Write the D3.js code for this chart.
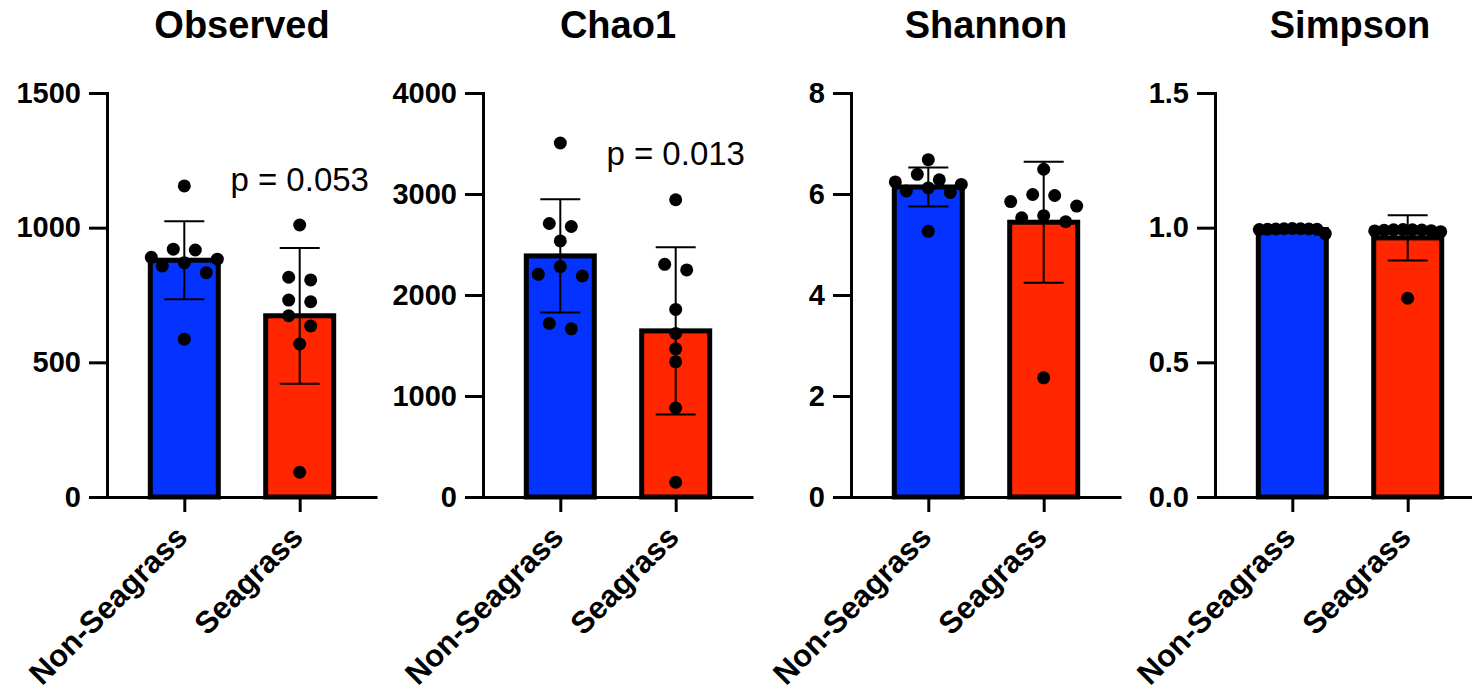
<!DOCTYPE html>
<html>
<head>
<meta charset="utf-8">
<script src="https://cdn.jsdelivr.net/npm/d3@7"></script>
<style>
  body { margin: 0; background: #fff; }
  text { font-family: "Liberation Sans", Arial, sans-serif; }
</style>
</head>
<body>
<svg id="chart" width="1472" height="690"></svg>
<script>
// --- data ---
var groups = ["Non-Seagrass", "Seagrass"];
var metrics = ["Observed", "Chao1", "Shannon", "Simpson"];

var observedNon = [1155, 917, 920, 890, 883, 858, 870, 833, 586];
var observedSea = [1010, 806, 816, 725, 731, 673, 635, 568, 92];
var chao1Non = [3505, 2678, 2708, 2535, 2281, 2205, 2188, 1665, 1718];
var chao1Sea = [2943, 2248, 2304, 1857, 1619, 1467, 1338, 881, 146];
var shannonNon = [6.68, 6.39, 6.28, 6.24, 6.19, 6.12, 6.06, 6.03, 5.26];
var shannonSea = [6.49, 5.76, 5.85, 5.97, 5.99, 5.53, 5.45, 5.57, 2.36];
var simpsonNon = [0.995, 0.996, 0.994, 0.997, 0.993, 0.995, 0.996, 0.978, 0.994];
var simpsonSea = [0.993, 0.990, 0.992, 0.988, 0.991, 0.985, 0.992, 0.989, 0.738];

var yMax = [1500, 4000, 8, 1.5];
var yTicks = [[0, 500, 1000, 1500], [0, 1000, 2000, 3000, 4000], [0, 2, 4, 6, 8], [0, 0.5, 1.0, 1.5]];
var tickFormats = ["d", "d", "d", ".1f"];
var pLabels = ["p = 0.053", "p = 0.013", null, null];
var groupColors = ["#0433FF", "#FF2600"];

var values = [
  [observedNon, observedSea],
  [chao1Non, chao1Sea],
  [shannonNon, shannonSea],
  [simpsonNon, simpsonSea]
];

// --- layout ---
var svg = d3.select("#chart");
svg.append("rect").attr("width", 1472).attr("height", 690).attr("fill", "#fff");

var panelLeft = [107, 483, 851, 1215];
var pTextY = [191, 165];
var plotTop = 93, plotBottom = 497, axisLen = 270;
var barW = 68, dotR = 6.5;

// rows of dots spread sideways, a bit like prism's scatter
function swarm(vals, y, maxHalf) {
  var pts = vals.map(function(v) { return {v: v, py: y(v)}; })
    .sort(function(a, b) { return a.py - b.py; });
  var rows = [];
  pts.forEach(function(p) {
    var row = rows[rows.length - 1];
    if (row && p.py - row[0].py < 12) row.push(p);
    else rows.push([p]);
  });
  rows.forEach(function(row) {
    var n = row.length;
    var step = n > 1 ? Math.min(22, 2 * maxHalf / (n - 1)) : 0;
    var offs = d3.range(n).map(function(i) { return (i - (n - 1) / 2) * step; })
      .sort(function(a, b) { return Math.abs(a) - Math.abs(b) || a - b; });
    row.forEach(function(p, i) { p.dx = offs[i]; });
  });
  return pts;
}

metrics.forEach(function(name, m) {
  var g = svg.append("g").attr("transform", "translate(" + panelLeft[m] + ",0)");

  var x = d3.scalePoint().domain(groups).range([0, axisLen]).padding(0.67);
  var y = d3.scaleLinear().domain([0, yMax[m]]).range([plotBottom, plotTop]);

  // bars
  groups.forEach(function(grp, k) {
    var vals = values[m][k];
    var mean = d3.mean(vals), sd = d3.deviation(vals);
    var cx = x(grp);

    g.append("rect")
      .attr("x", cx - barW / 2).attr("y", y(mean))
      .attr("width", barW).attr("height", y(0) - y(mean))
      .attr("fill", groupColors[k])
      .attr("stroke", "#000").attr("stroke-width", 5);

    // error bar (SD)
    var eb = g.append("g").attr("stroke", "#000").attr("stroke-width", 2);
    eb.append("line").attr("x1", cx).attr("x2", cx).attr("y1", y(mean + sd)).attr("y2", y(mean - sd));
    eb.append("line").attr("x1", cx - 20).attr("x2", cx + 20).attr("y1", y(mean + sd)).attr("y2", y(mean + sd));
    eb.append("line").attr("x1", cx - 20).attr("x2", cx + 20).attr("y1", y(mean - sd)).attr("y2", y(mean - sd));

    // dots
    g.selectAll(null).data(swarm(vals, y, 33)).enter().append("circle")
      .attr("cx", function(d) { return cx + d.dx; })
      .attr("cy", function(d) { return d.py; })
      .attr("r", dotR).attr("fill", "#000");
  });

  // y axis
  var ya = g.append("g")
    .call(d3.axisLeft(y).tickValues(yTicks[m]).tickFormat(d3.format(tickFormats[m]))
      .tickSize(18).tickSizeOuter(0).tickPadding(8));
  ya.selectAll("path, line").attr("stroke", "#000").attr("stroke-width", 3);
  ya.select(".domain").attr("stroke-linecap", "square");
  ya.selectAll("text").attr("font-size", 29).attr("font-weight", "bold").attr("fill", "#000");

  // x axis
  var xa = g.append("g").attr("transform", "translate(0," + plotBottom + ")")
    .call(d3.axisBottom(x).tickSize(15).tickSizeOuter(0).tickFormat(""));
  xa.selectAll("path, line").attr("stroke", "#000").attr("stroke-width", 3);

  groups.forEach(function(grp) {
    g.append("text")
      .attr("transform", "translate(" + (x(grp) + 5) + ",539) rotate(-45)")
      .attr("text-anchor", "end")
      .attr("font-size", 31).attr("font-weight", "bold")
      .text(grp);
  });

  // title
  g.append("text")
    .attr("x", (x(groups[0]) + x(groups[1])) / 2).attr("y", 38)
    .attr("text-anchor", "middle")
    .attr("font-size", 38).attr("font-weight", "bold")
    .text(name);

  if (pLabels[m]) {
    g.append("text")
      .attr("x", x(groups[1])).attr("y", pTextY[m])
      .attr("text-anchor", "middle")
      .attr("font-size", 33)
      .text(pLabels[m]);
  }
});
</script>
</body>
</html>
